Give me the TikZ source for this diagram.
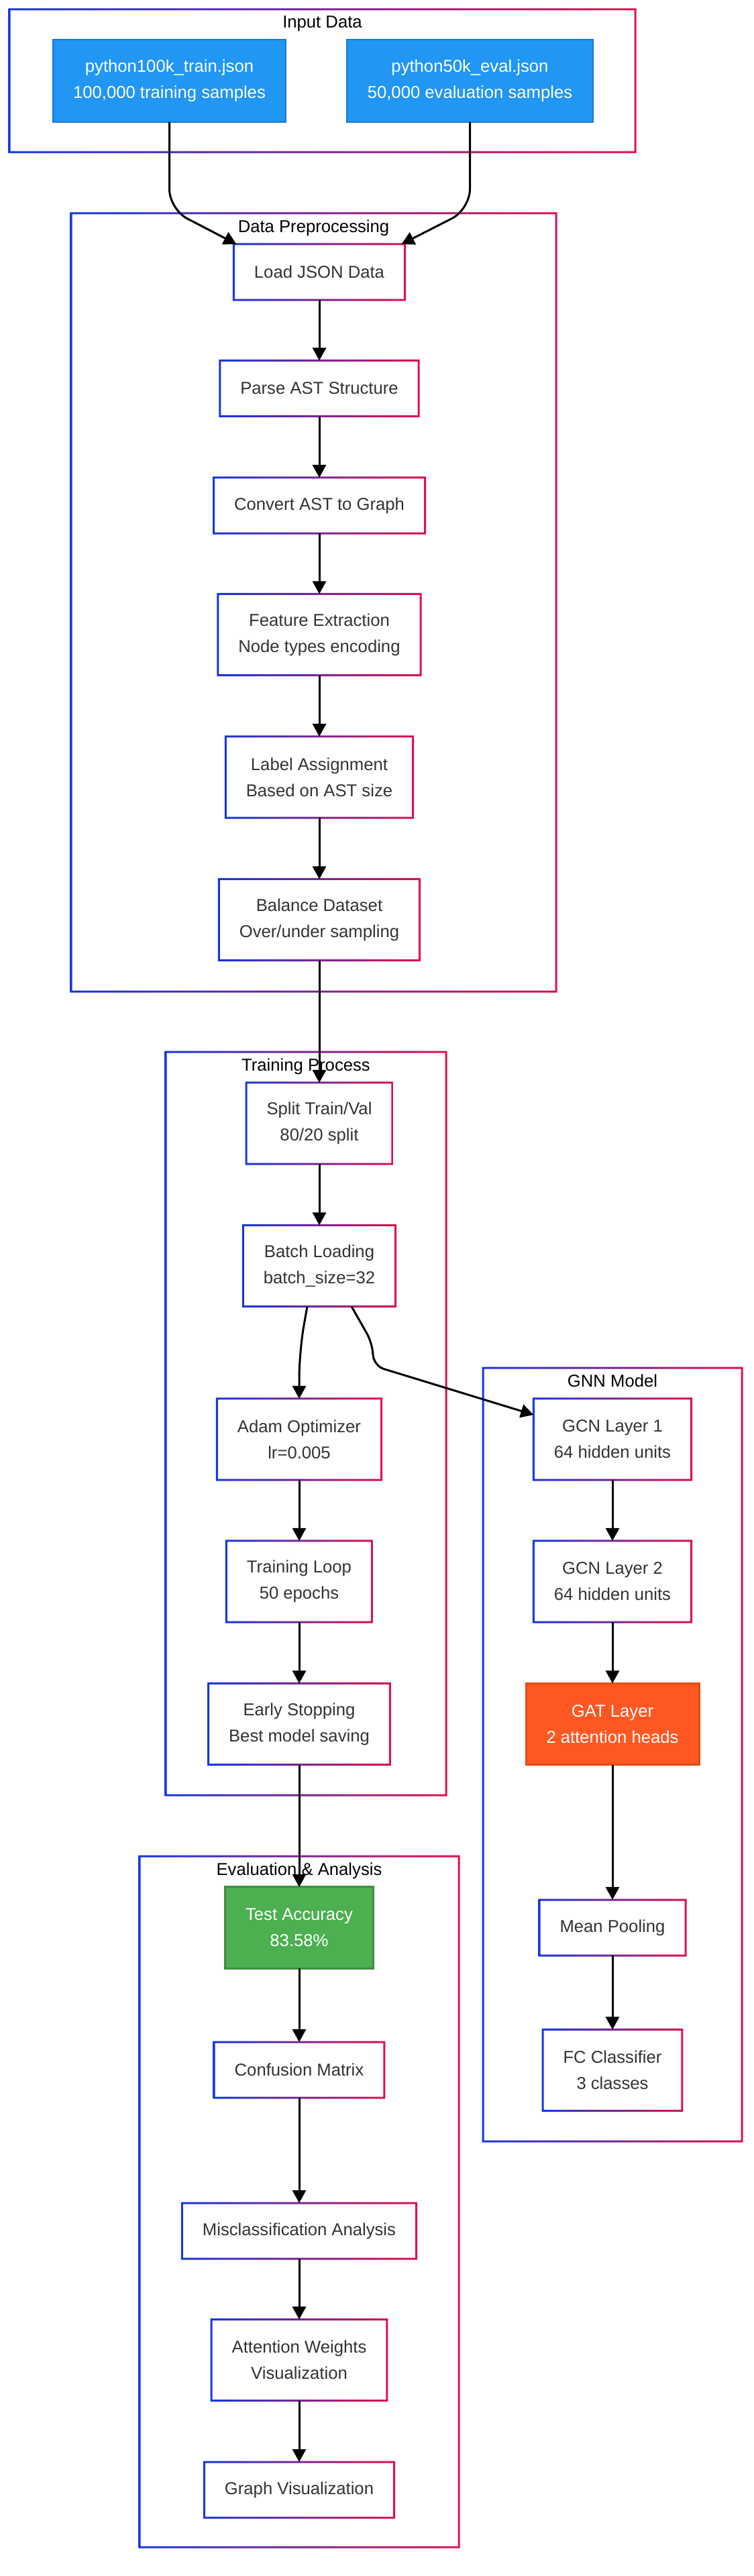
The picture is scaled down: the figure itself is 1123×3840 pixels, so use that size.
\documentclass[tikz,border=0pt]{standalone}
\usepackage{fontspec}
\setmainfont{Liberation Sans}
\usetikzlibrary{arrows.meta}

\definecolor{gblue}{HTML}{1537E0}
\definecolor{gred}{HTML}{E0114A}
\definecolor{txt}{HTML}{333333}
\definecolor{pyfill}{HTML}{2196F3}
\definecolor{pyline}{HTML}{1976D2}
\definecolor{gatfill}{HTML}{FF5722}
\definecolor{gatline}{HTML}{E64A19}
\definecolor{accfill}{HTML}{4CAF50}
\definecolor{accline}{HTML}{3E8E41}

% gradient border between two corners (top left, bottom right)
\newcommand{\gradbox}[2]{%
  \shade[left color=gblue,right color=gred,even odd rule]
    ([shift={(-1.5,-1.5)}]#1) rectangle ([shift={(1.5,1.5)}]#2)
    ([shift={(1.5,1.5)}]#1) rectangle ([shift={(-1.5,-1.5)}]#2);}

\tikzset{
  box/.style={fill=white,text=txt,align=center,inner xsep=0.305cm,inner ysep=0pt,
    outer sep=0pt,minimum height=0.83cm,font=\fontsize{7.3pt}{11.1pt}\selectfont},
  tall/.style={minimum height=1.21cm},
  pybox/.style={box,fill=pyfill,draw=pyline,line width=0.02cm,text=white,minimum height=1.23cm},
  gatbox/.style={box,fill=gatfill,draw=gatline,line width=0.03cm,text=white},
  accbox/.style={box,fill=accfill,draw=accline,line width=0.03cm,text=white},
  title/.style={anchor=base,text=black,font=\fontsize{7.3pt}{11.1pt}\selectfont},
  arr/.style={-{Triangle[length=0.19cm,width=0.2cm]},line width=0.03cm,black},
}

\begin{document}
\begin{tikzpicture}[x=0.01cm,y=-0.01cm]
\useasboundingbox (0,0) rectangle (1123,3840);
\fill[white] (0,0) rectangle (1123,3840);

% frames
\coordinate (inpA) at (14,14);    \coordinate (inpB) at (947,227);
\coordinate (prepA) at (106,318); \coordinate (prepB) at (829,1478);
\coordinate (trnA) at (247,1568); \coordinate (trnB) at (665,2676);
\coordinate (gnnA) at (720,2039); \coordinate (gnnB) at (1106,3192);
\coordinate (evlA) at (208,2767); \coordinate (evlB) at (684,3797);
\foreach \f in {inp,prep,trn,gnn,evl}
  \gradbox{\f A}{\f B};

\node[title] (inpT) at (480.5,42) {Input Data};
\node[title] (prepT) at (467.5,346.5) {Data Preprocessing};
\node[title] (trnT) at (456,1596.5) {Training Process};
\node[title] (gnnT) at (913,2067.5) {GNN Model};
\node[title] (evlT) at (446,2795.5) {Evaluation \& Analysis};

% input data
\node[pybox] (train) at (252.5,120.5) {python100k\_train.json\\100,000 training samples};
\node[pybox] (evalset) at (700.5,120.5) {python50k\_eval.json\\50,000 evaluation samples};

% preprocessing
\node[box] (load) at (476,405.5) {Load JSON Data};
\node[box] (parse) at (476,579) {Parse AST Structure};
\node[box] (convert) at (476,753.5) {Convert AST to Graph};
\node[box,tall] (feature) at (476,946) {Feature Extraction\\Node types encoding};
\node[box,tall] (label) at (476,1158.5) {Label Assignment\\Based on AST size};
\node[box,tall] (balance) at (476,1371) {Balance Dataset\\Over/under sampling};

% training
\node[box,tall] (split) at (476,1674.5) {Split Train/Val\\80/20 split};
\node[box,tall] (batch) at (476,1887) {Batch Loading\\batch\_size=32};
\node[box,tall] (adam) at (446,2145.5) {Adam Optimizer\\lr=0.005};
\node[box,tall] (trainloop) at (446,2357.5) {Training Loop\\50 epochs};
\node[box,tall] (early) at (446,2570) {Early Stopping\\Best model saving};

% model
\node[box,tall] (gcna) at (913,2145.5) {GCN Layer 1\\64 hidden units};
\node[box,tall] (gcnb) at (913,2357.5) {GCN Layer 2\\64 hidden units};
\node[gatbox,tall] (gat) at (913,2570) {GAT Layer\\2 attention heads};
\node[box] (pool) at (913,2873.5) {Mean Pooling};
\node[box,tall] (fc) at (913,3086) {FC Classifier\\3 classes};

% evaluation
\node[accbox,tall] (acc) at (446,2873.5) {Test Accuracy\\83.58\%};
\node[box] (confusion) at (446,3085.5) {Confusion Matrix};
\node[box] (misclass) at (446,3325.5) {Misclassification Analysis};
\node[box,tall] (attn) at (446,3518) {Attention Weights\\Visualization};
\node[box] (graphvis) at (446,3711.5) {Graph Visualization};

\foreach \n in {load,parse,convert,feature,label,balance,split,batch,adam,
  trainloop,early,gcna,gcnb,pool,fc,confusion,misclass,attn,graphvis}
  \gradbox{\n.north west}{\n.south east};

% connectors
\draw[arr,rounded corners=0.3cm] (train.south) -- (252.5,312) -- ([xshift=0.04cm]load.north west);
\draw[arr,rounded corners=0.3cm] (evalset.south) -- (700.5,312) -- ([xshift=-0.05cm]load.north east);
\draw[arr] (load) -- (parse);
\draw[arr] (parse) -- (convert);
\draw[arr] (convert) -- (feature);
\draw[arr] (feature) -- (label);
\draw[arr] (label) -- (balance);
\draw[arr] (balance) -- (split);
\draw[arr] (split) -- (batch);
\draw[arr,rounded corners=0.4cm] ([xshift=-0.18cm]batch.south) -- (446,2015) -- (adam.north);
\draw[arr,rounded corners=0.16cm] ([xshift=0.48cm]batch.south) -- (555,2002) -- (557,2036)
  -- ([yshift=-0.24cm]gcna.north west);
\draw[arr] (adam) -- (trainloop);
\draw[arr] (trainloop) -- (early);
\draw[arr] (early) -- (acc);
\draw[arr] (gcna) -- (gcnb);
\draw[arr] (gcnb) -- (gat);
\draw[arr] (gat) -- (pool);
\draw[arr] (pool) -- (fc);
\draw[arr] (acc) -- (confusion);
\draw[arr] (confusion) -- (misclass);
\draw[arr] (misclass) -- (attn);
\draw[arr] (attn) -- (graphvis);
\end{tikzpicture}
\end{document}
